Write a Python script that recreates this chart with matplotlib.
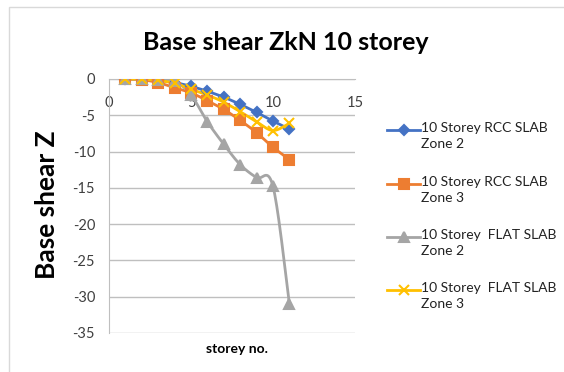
import matplotlib
matplotlib.use("Agg")
import matplotlib.pyplot as plt
from matplotlib.lines import Line2D
from matplotlib.patches import Rectangle
import numpy as np

plt.rcParams["font.family"] = ["Lato", "DejaVu Sans"]
plt.rcParams["axes.unicode_minus"] = False

storey = [1, 2, 3, 4, 5, 6, 7, 8, 9, 10, 11]
rcc_zone2 = [0, 0, -0.2, -0.5, -1.0, -1.7, -2.5, -3.5, -4.6, -5.8, -6.9]
rcc_zone3 = [0, -0.1, -0.5, -1.2, -1.9, -3.0, -4.2, -5.7, -7.4, -9.4, -11.1]
flat_zone2 = [0, 0, -0.1, -0.3, -2.2, -5.9, -9.0, -11.8, -13.6, -14.8, -31.0]
flat_zone3 = [0, 0, -0.2, -0.6, -1.4, -2.2, -3.2, -4.5, -5.9, -7.1, -6.1]

labels = ["10 Storey RCC SLAB\nZone 2", "10 Storey RCC SLAB\nZone 3",
          "10 Storey  FLAT SLAB\nZone 2", "10 Storey  FLAT SLAB\nZone 3"]
series = [rcc_zone2, rcc_zone3, flat_zone2, flat_zone3]
colors = ["#4472C4", "#ED7D31", "#A5A5A5", "#FFC000"]
markers = ["D", "s", "^", "x"]
msizes = [5.5, 7, 7, 7]

xticks = [0, 5, 10, 15]
yticks = [0, -5, -10, -15, -20, -25, -30, -35]


def smooth(x, y, n=20):
    """Catmull-Rom curve through the points (spreadsheet-style smoothed line)."""
    x = np.asarray(x, float)
    y = np.asarray(y, float)
    px = np.concatenate([[x[0]], x, [x[-1]]])
    py = np.concatenate([[y[0]], y, [y[-1]]])
    t = np.linspace(0, 1, n)
    xs, ys = [], []
    for i in range(1, len(px) - 2):
        p0, p1, p2, p3 = (np.array([px[j], py[j]]) for j in (i - 1, i, i + 1, i + 2))
        c1 = p1 + (p2 - p0) / 6
        c2 = p2 - (p3 - p1) / 6
        pts = ((1 - t) ** 3)[:, None] * p1 + (3 * (1 - t) ** 2 * t)[:, None] * c1 \
            + (3 * (1 - t) * t ** 2)[:, None] * c2 + (t ** 3)[:, None] * p2
        xs.append(pts[:, 0])
        ys.append(pts[:, 1])
    return np.concatenate(xs), np.concatenate(ys)


fig = plt.figure(figsize=(5.64, 3.72), dpi=100)
fig.add_artist(Rectangle((9 / 564, -0.1), 1.2, 1 - 7 / 372 + 0.1, transform=fig.transFigure,
                         fill=False, edgecolor="#D9D9D9", lw=1))
ax = fig.add_axes([109 / 564, 1 - 333 / 372, 246 / 564, 254 / 372])

for ys, c, m, ms in zip(series, colors, markers, msizes):
    sx, sy = smooth(storey, ys)
    ax.plot(sx, sy, color=c, lw=2, zorder=3)
    ax.plot(storey, ys, ls="none", marker=m, color=c, ms=ms, mew=1.5, zorder=4)

ax.set_xlim(0, 15)
ax.set_ylim(-35, 0)
ax.set_xticks(xticks)
ax.set_yticks(yticks)
ax.grid(axis="y", color="#BFBFBF", lw=1)
ax.set_axisbelow(True)
for s in ("top", "right"):
    ax.spines[s].set_visible(False)
ax.spines["left"].set_color("#BFBFBF")
ax.spines["bottom"].set_position(("data", 0))
ax.spines["bottom"].set_color("#BFBFBF")
ax.tick_params(length=0, labelsize=10.5, labelcolor="#404040")
ax.tick_params(axis="x", pad=12)
ax.tick_params(axis="y", pad=10)

fig.text(286 / 564, 1 - 42 / 372, "Base shear ZkN 10 storey", ha="center", va="center",
         fontsize=18, fontweight="bold")
fig.text(47 / 564, 1 - 205 / 372, "Base shear Z", ha="center", va="center",
         rotation=90, fontsize=19, fontweight="bold")
fig.text(237 / 564, 1 - 349 / 372, "storey no.", ha="center", va="center",
         fontsize=10, fontweight="bold")

# legend drawn by hand so the handle sits on the first text line
first_rows = [130, 184, 237, 290]
for row, lab, c, m, ms in zip(first_rows, labels, colors, markers, msizes):
    yf = 1 - row / 372
    fig.add_artist(Line2D([387 / 564, 420 / 564], [yf, yf], color=c, lw=2,
                          transform=fig.transFigure))
    fig.add_artist(Line2D([403.5 / 564], [yf], marker=m, color=c, ms=ms, mew=1.5,
                          transform=fig.transFigure))
    fig.text(421 / 564, yf + 8 / 372, lab, ha="left", va="top", fontsize=10,
             color="#222222", linespacing=1.4)

fig.savefig("out.png", dpi=100)
